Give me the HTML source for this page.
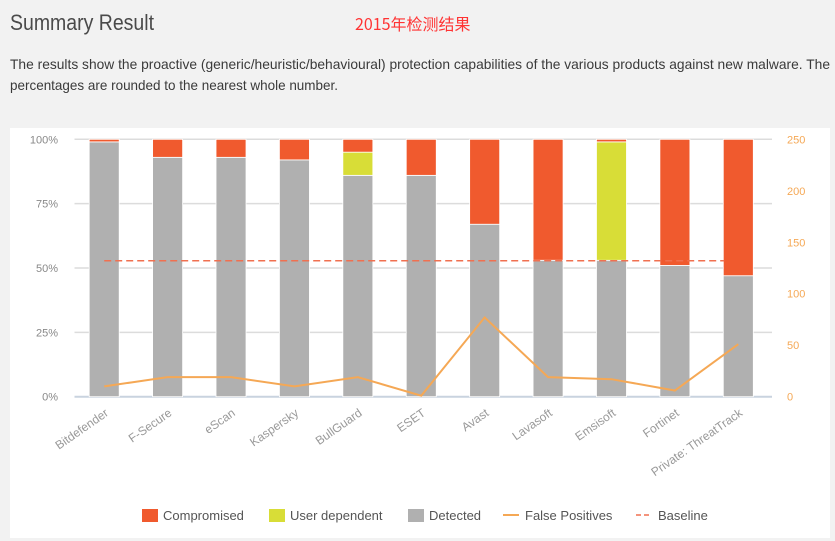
<!DOCTYPE html>
<html><head><meta charset="utf-8"><style>
html,body{margin:0;padding:0;background:#f2f2f2;}
svg{display:block;font-family:"Liberation Sans Narrow","Liberation Sans","Noto Sans CJK SC",sans-serif;}
</style></head><body>
<svg id="c" width="835" height="541" viewBox="0 0 835 541">
<rect x="0" y="0" width="835" height="541" fill="#f2f2f2"/>
<text x="10" y="30" font-size="22" fill="#4a4a4a" textLength="144" lengthAdjust="spacingAndGlyphs">Summary Result</text>
<text x="355" y="30" font-size="16" fill="#ff3333" font-family="Liberation Sans Narrow,'Noto Sans CJK SC',sans-serif">2015年检测结果</text>
<text x="10" y="69" font-size="14" fill="#3a3a3a" textLength="820" lengthAdjust="spacingAndGlyphs">The results show the proactive (generic/heuristic/behavioural) protection capabilities of the various products against new malware. The</text>
<text x="10" y="90" font-size="14" fill="#3a3a3a" textLength="328" lengthAdjust="spacingAndGlyphs">percentages are rounded to the nearest whole number.</text>
<rect x="10" y="128" width="820" height="410" fill="#ffffff"/>
<g id="grid"></g><g id="bars"></g><g id="lines"></g><g id="axes"></g>
<g font-size="13" fill="#555">
<rect x="142" y="509" width="16" height="13" fill="#f05a2e"/>
<text x="163" y="520">Compromised</text>
<rect x="269" y="509" width="16" height="13" fill="#d8dd37"/>
<text x="290" y="520">User dependent</text>
<rect x="408" y="509" width="16" height="13" fill="#b0b0b0"/>
<text x="429" y="520">Detected</text>
<line x1="503" y1="515" x2="519" y2="515" stroke="#f5a855" stroke-width="2"/>
<text x="525" y="520">False Positives</text>
<line x1="636" y1="515" x2="652" y2="515" stroke="#f07050" stroke-width="1.5" stroke-dasharray="5,3"/>
<text x="658" y="520">Baseline</text>
</g>
</svg>
<script>
const categories=["Bitdefender","F-Secure","eScan","Kaspersky","BullGuard","ESET","Avast","Lavasoft","Emsisoft","Fortinet","Private: ThreatTrack"];
const detected=[99,93,93,92,86,86,67,53,53,51,47];
const userDependent=[0,0,0,0,9,0,0,0,46,0,0];
const compromised=[1,7,7,8,5,14,33,47,1,49,53];
const falsePositives=[10,19,19,10,19,1,77,19,17,6,51];
const baseline=132;
const leftTicks=["0%","25%","50%","75%","100%"];
const rightTicks=[0,50,100,150,200,250];
const NS="http://www.w3.org/2000/svg";
const X0=74.5,X1=772,Y0=396.7,Y1=139.3;
const step=(X1-X0)/categories.length;
const bw=30;
const xc=i=>X0+step*(i+0.5)-2;
const yP=v=>Y0-(Y0-Y1)*v/100;
const yR=v=>Y0-(Y0-Y1)*v/250;
function mk(t,a,p){const e=document.createElementNS(NS,t);for(const k in a)e.setAttribute(k,a[k]);p.appendChild(e);return e;}
const grid=document.getElementById('grid'),bars=document.getElementById('bars'),lines=document.getElementById('lines'),axes=document.getElementById('axes');
leftTicks.forEach((t,i)=>{const y=yP(i*25);
const l=mk('line',{x1:X0,x2:X1,y1:y,y2:y,stroke:i==0?'#c9d3df':'#dcdcdc','stroke-width':i==0?2:1.5},grid);


const tx=mk('text',{x:58,y:y+4,'text-anchor':'end','font-size':11,fill:'#888'},axes);tx.textContent=t;

});
rightTicks.forEach(v=>{const tx=mk('text',{x:787,y:yR(v)+4,'font-size':11,fill:'#f5a855'},axes);tx.textContent=v;

});
categories.forEach((c,i)=>{const x=xc(i)-bw/2;
let base=0;
[[detected[i],'#b0b0b0','detected'],[userDependent[i],'#d8dd37','user-dependent'],[compromised[i],'#f05a2e','compromised']].forEach(([v,col,n])=>{
if(v<=0)return;const yt=yP(base+v),yb=yP(base);
const r=mk('rect',{x:x,y:yt,width:bw,height:yb-yt,fill:col,stroke:'#fff','stroke-width':0.8},bars);


base+=v;});
const tx=mk('text',{x:0,y:0,'text-anchor':'end','font-size':12,fill:'#999',transform:`translate(${xc(i)+5},${Y0+18}) rotate(-35)`},axes);tx.textContent=c;

});
const bl=mk('line',{x1:xc(0),x2:xc(categories.length-1)-14,y1:yR(baseline),y2:yR(baseline),stroke:'#f07050','stroke-width':1.5,'stroke-dasharray':'7,4'},lines);


const pl=mk('polyline',{points:falsePositives.map((v,i)=>xc(i)+','+yR(v)).join(' '),fill:'none',stroke:'#f5a855','stroke-width':2},lines);


</script>
</body></html>
